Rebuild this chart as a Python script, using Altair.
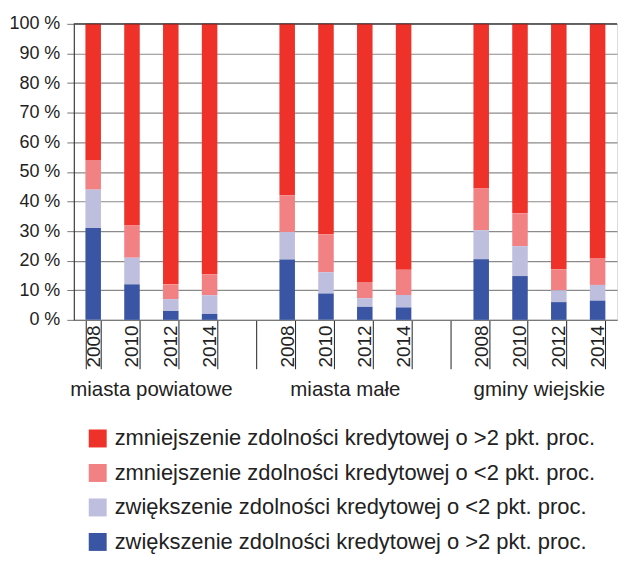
import altair as alt
import pandas as pd

groups = ["miasta powiatowe", "miasta małe", "gminy wiejskie"]
years = ["2008", "2010", "2012", "2014"]
series = [
    "zmniejszenie zdolności kredytowej o >2 pkt. proc.",
    "zmniejszenie zdolności kredytowej o <2 pkt. proc.",
    "zwiększenie zdolności kredytowej o <2 pkt. proc.",
    "zwiększenie zdolności kredytowej o >2 pkt. proc.",
]
colors = ["#EE3129", "#F28184", "#BEBEDE", "#3A55A4"]

# shares in %, per group (rows) and year (columns)
dec_big = [[46, 68, 88, 84.6], [57.9, 71.1, 87.2, 83.1], [55.6, 64.0, 82.9, 79.1]]
dec_small = [[10, 11, 5, 7.1], [12.4, 12.8, 5.5, 8.5], [14.1, 11.1, 7.1, 9.1]]
inc_small = [[13, 9, 4, 6.3], [9.3, 7.2, 2.9, 4.2], [9.8, 10.1, 4.0, 5.3]]
inc_big = [[31, 12, 3, 2], [20.4, 8.9, 4.4, 4.2], [20.5, 14.8, 6.0, 6.5]]

series_values = [dec_big, dec_small, inc_small, inc_big]

slots = []
for gi in range(len(groups)):
    for y in years:
        slots.append(f"g{gi}:{y}")
    if gi < len(groups) - 1:
        slots.append(f"gap{gi}:")

rows = []
for si, s in enumerate(series):
    for gi in range(len(groups)):
        for yi, y in enumerate(years):
            rows.append({
                "slot": f"g{gi}:{y}",
                "series": s,
                "value": series_values[si][gi][yi],
                "ord": 3 - si,
            })
df = pd.DataFrame(rows)

labels_df = pd.DataFrame({
    "slot": [f"g{gi}:2012" for gi in range(len(groups))],
    "name": groups,
})
top_df = pd.DataFrame({"v": [100]})

FONT = "Liberation Sans"
W, H = 545, 297

xscale = alt.Scale(domain=slots, paddingInner=0.6, paddingOuter=0.3)
yscale = alt.Scale(domain=[0, 100], nice=False)

xaxis = alt.Axis(labelExpr="split(datum.value, ':')[1]",
                 labelAngle=270, labelAlign="right", labelBaseline="middle",
                 labelFontSize=19, labelColor="#222",
                 labelPadding=-44, tickBand="extent", tickSize=49,
                 tickColor="#222", domainColor="#777", labelFont=FONT,
                 grid=False)
yaxis = alt.Axis(values=list(range(0, 101, 10)),
                 labelExpr="datum.value + ' %'",
                 labelFontSize=18, labelColor="#222", labelFont=FONT,
                 tickSize=7, tickColor="#777", gridColor="#8a8a8a",
                 gridWidth=1.2, domainColor="#222", labelPadding=7)

bars = alt.Chart(df).mark_bar().encode(
    x=alt.X("slot:N", scale=xscale, title=None, axis=xaxis),
    y=alt.Y("value:Q", stack="zero", title=None, scale=yscale, axis=yaxis),
    color=alt.Color("series:N", scale=alt.Scale(domain=series, range=colors),
                    legend=alt.Legend(orient="none", legendX=13, legendY=405,
                                      title=None, symbolType="square",
                                      symbolSize=324, symbolStrokeWidth=0,
                                      labelFontSize=22, labelFont=FONT,
                                      labelColor="#222", labelLimit=1000,
                                      rowPadding=12.6, labelOffset=6)),
    order=alt.Order("ord:Q"),
)

top = alt.Chart(top_df).mark_rule(color="#222", strokeWidth=1).encode(
    y=alt.Y("v:Q", scale=yscale, title=None, axis=yaxis),
    x=alt.value(0), x2=alt.value(W),
)

group_text = alt.Chart(labels_df).mark_text(
    fontSize=20.5, font=FONT, color="#222", baseline="alphabetic", dx=-19.46
).encode(
    x=alt.X("slot:N", scale=xscale, title=None, axis=xaxis),
    y=alt.value(H + 76),
    text="name:N",
)

chart = alt.layer(bars, top, group_text).properties(
    width=W, height=H,
    padding={"left": 0, "top": 6, "right": 0, "bottom": 0},
).configure_view(stroke=None).configure(font=FONT)

chart.save("out.html", embed_options={"renderer": "svg", "actions": False})
